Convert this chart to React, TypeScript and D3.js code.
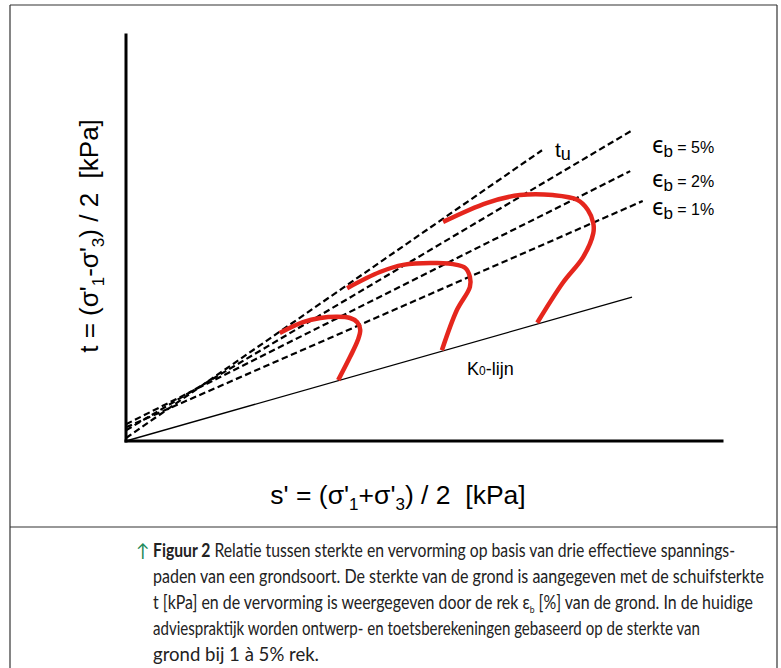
import React from "react";
import * as d3 from "d3";

// ---- data (s' and t in arbitrary kPa-like units) ----
const K0_S = [0, 84.9];
const K0_T = [0, 24.1];

const LINE_NAMES = ["tu", "eps5", "eps2", "eps1"];
const LINE_START_T = [0.5, 1.8, 2.8, 2.3];
const LINE_END_S = [69.8, 84.7, 84.6, 86.7];
const LINE_END_T = [48.7, 51.9, 45.2, 40.2];

const PATH1_S = [35.6, 37.6, 38.9, 39.3, 38.8, 37.6, 35.4, 32.6, 29.7, 25.8];
const PATH1_T = [10.2, 14.1, 16.9, 18.6, 19.9, 20.6, 20.8, 20.6, 19.9, 18.1];
const PATH2_S = [53.0, 55.5, 57.7, 57.7, 56.9, 55.5, 52.2, 46.5, 42.6, 37.1];
const PATH2_T = [15.2, 21.9, 25.8, 27.5, 29.0, 29.5, 29.8, 29.5, 28.3, 25.6];
const PATH3_S = [69.0, 73.3, 76.7, 78.4, 78.4, 77.5, 75.7, 71.6, 66.1, 60.6, 53.2];
const PATH3_T = [19.8, 26.5, 30.8, 34.8, 36.5, 38.7, 40.4, 41.2, 41.2, 39.9, 36.7];

const STRAIN_LABELS = ["5%", "2%", "1%"];

const CAPTION_REST = [
  "paden van een grondsoort. De sterkte van de grond is aangegeven met de schuifsterkte",
  "adviespraktijk worden ontwerp- en toetsberekeningen gebaseerd op de sterkte van",
  "grond bij 1 à 5% rek.",
];

const W = 781;
const H = 668;

export default function App() {
  const x = d3.scaleLinear().domain([0, 100]).range([126, 722]);
  const y = d3.scaleLinear().domain([0, 68]).range([441, 35]);

  const line = d3
    .line<[number, number]>()
    .x((d) => x(d[0]))
    .y((d) => y(d[1]));
  const curve = d3
    .line<[number, number]>()
    .x((d) => x(d[0]))
    .y((d) => y(d[1]))
    .curve(d3.curveCatmullRom.alpha(0.5));

  const paths = [
    [PATH1_S, PATH1_T],
    [PATH2_S, PATH2_T],
    [PATH3_S, PATH3_T],
  ].map(([s, t]) => s.map((v, i) => [v, t[i]] as [number, number]));

  const sans = "'Liberation Sans', Arial, sans-serif";
  const cap = "Lato, 'Open Sans', sans-serif";
  const capX = 153;
  const capY0 = 557;
  const capDy = 26;

  return (
    <svg
      width={W}
      height={H}
      style={{ position: "absolute", left: 0, top: 0, background: "#fff" }}
    >
      {/* frame */}
      <g stroke="#333" strokeWidth={1.2} fill="none">
        <line x1={10} y1={5} x2={777} y2={5} />
        <line x1={10} y1={5} x2={10} y2={H} />
        <line x1={777} y1={5} x2={777} y2={H} />
        <line x1={10} y1={527} x2={777} y2={527} />
      </g>

      {/* K0 line */}
      <path
        d={line(K0_S.map((v, i) => [v, K0_T[i]] as [number, number])) || ""}
        stroke="#000"
        strokeWidth={1.3}
        fill="none"
      />

      {/* dashed strength lines */}
      {LINE_NAMES.map((n, i) => (
        <path
          key={n}
          d={line([[0, LINE_START_T[i]], [LINE_END_S[i], LINE_END_T[i]]]) || ""}
          stroke="#000"
          strokeWidth={2.2}
          strokeDasharray="6.5,3.5"
          fill="none"
        />
      ))}

      {/* stress paths */}
      {paths.map((p, i) => (
        <path
          key={i}
          d={curve(p) || ""}
          stroke="#e5261d"
          strokeWidth={4.5}
          fill="none"
          strokeLinecap="butt"
        />
      ))}

      {/* axes */}
      <g stroke="#000" strokeWidth={3} strokeLinecap="square">
        <line x1={x(0)} y1={y(0)} x2={x(0)} y2={y(68)} />
        <line x1={x(0)} y1={y(0)} x2={x(100)} y2={y(0)} />
      </g>

      {/* tu label */}
      <text x={555} y={157} fontFamily={sans} fontSize={21} fill="#000">
        t<tspan fontSize={18} dy={3}>u</tspan>
      </text>

      {/* strain labels */}
      {STRAIN_LABELS.map((l, i) => (
        <text
          key={l}
          x={652}
          y={[153, 187, 215][i]}
          fontFamily={sans}
          fill="#000"
          style={{ whiteSpace: "pre" }}
        >
          <tspan fontSize={23} fontFamily="'Noto Sans', 'DejaVu Sans', sans-serif">ϵ</tspan>
          <tspan fontSize={17} dy={4}>b</tspan>
          <tspan fontSize={16} dy={-4}>{" = " + l}</tspan>
        </text>
      ))}

      {/* K0-lijn label */}
      <text x={467} y={375} fontFamily={sans} fontSize={18} fill="#000">
        K<tspan fontSize={12}>0</tspan>-lijn
      </text>

      {/* axis titles */}
      <text
        transform="translate(98,236) rotate(-90)"
        textAnchor="middle"
        fontFamily={sans}
        fontSize={26}
        fill="#000"
        style={{ whiteSpace: "pre" }}
      >
        {"t = (σ'"}
        <tspan fontSize={17} dy={6}>1</tspan>
        <tspan dy={-6}>{"-σ'"}</tspan>
        <tspan fontSize={17} dy={6}>3</tspan>
        <tspan dy={-6}>{") / 2  [kPa]"}</tspan>
      </text>
      <text
        x={398}
        y={504}
        textAnchor="middle"
        fontFamily={sans}
        fontSize={26.5}
        fill="#000"
        style={{ whiteSpace: "pre" }}
      >
        {"s' = (σ'"}
        <tspan fontSize={17} dy={6}>1</tspan>
        <tspan dy={-6}>{"+σ'"}</tspan>
        <tspan fontSize={17} dy={6}>3</tspan>
        <tspan dy={-6}>{") / 2  [kPa]"}</tspan>
      </text>

      {/* caption */}
      <g fontFamily={cap} fontSize={18.5} fill="#222" style={{ whiteSpace: "pre" }}>
        <text x={136} y={capY0} fill="#1e8a5a" fontSize={18}>↑</text>
        <text x={capX} y={capY0} textLength={582} lengthAdjust="spacingAndGlyphs">
          <tspan fontWeight="bold">Figuur 2</tspan>
          {"  Relatie tussen sterkte en vervorming op basis van drie effectieve spannings-"}
        </text>
        <text x={capX} y={capY0 + capDy} textLength={611} lengthAdjust="spacingAndGlyphs">
          {CAPTION_REST[0]}
        </text>
        <text x={capX} y={capY0 + 2 * capDy} textLength={600} lengthAdjust="spacingAndGlyphs">
          {"t [kPa] en de vervorming is weergegeven door de rek ε"}
          <tspan fontSize={10} dy={4}>b</tspan>
          <tspan dy={-4}>{" [%] van de grond. In de huidige"}</tspan>
        </text>
        <text x={capX} y={capY0 + 3 * capDy} textLength={547} lengthAdjust="spacingAndGlyphs">
          {CAPTION_REST[1]}
        </text>
        <text x={capX} y={capY0 + 4 * capDy} textLength={166} lengthAdjust="spacingAndGlyphs">
          {CAPTION_REST[2]}
        </text>
      </g>
    </svg>
  );
}
